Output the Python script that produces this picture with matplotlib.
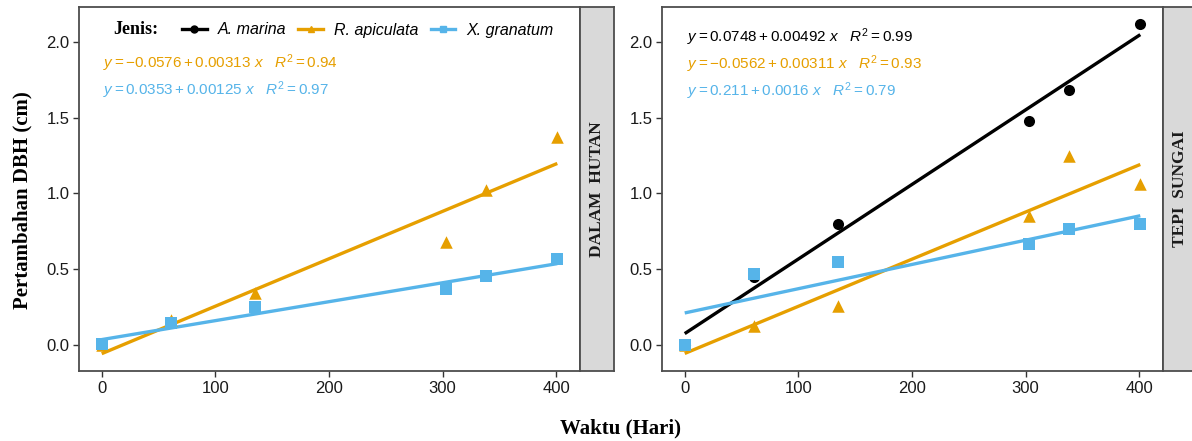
import matplotlib
matplotlib.use("Agg")
import matplotlib.pyplot as plt
from matplotlib.lines import Line2D
import numpy as np

plt.rcParams['mathtext.fontset'] = 'custom'
plt.rcParams['mathtext.rm'] = 'Liberation Sans'
plt.rcParams['mathtext.it'] = 'Liberation Sans:italic'
plt.rcParams['font.family'] = ['Liberation Sans', 'DejaVu Sans']

# ---------------- data ----------------
days = [0, 61, 135, 303, 338, 401]

# DALAM HUTAN
hutan_rapi = [0.0, 0.165, 0.34, 0.68, 1.02, 1.37]
hutan_xgra = [0.005, 0.143, 0.25, 0.37, 0.455, 0.568]

# TEPI SUNGAI
sungai_amar = [0.0, 0.445, 0.80, 1.48, 1.68, 2.12]
sungai_rapi = [0.0, 0.125, 0.26, 0.85, 1.25, 1.06]
sungai_xgra = [0.0, 0.47, 0.545, 0.667, 0.766, 0.80]

# fitted lines (intercept, slope, R2)
fit_hutan_rapi = (-0.0576, 0.00313, 0.94)
fit_hutan_xgra = (0.0353, 0.00125, 0.97)
fit_sungai_amar = (0.0748, 0.00492, 0.99)
fit_sungai_rapi = (-0.0562, 0.00311, 0.93)
fit_sungai_xgra = (0.211, 0.0016, 0.79)

species = ['A. marina', 'R. apiculata', 'X. granatum']
panel_labels = ['DALAM  HUTAN', 'TEPI  SUNGAI']
xticks = [0, 100, 200, 300, 400]
yticks = [0.0, 0.5, 1.0, 1.5, 2.0]

# ---------------- style ----------------
C_BLACK = '#000000'
C_ORANGE = '#E69F00'
C_BLUE = '#56B4E9'
colors = {'A. marina': C_BLACK, 'R. apiculata': C_ORANGE, 'X. granatum': C_BLUE}
markers = {'A. marina': 'o', 'R. apiculata': '^', 'X. granatum': 's'}
msizes = {'A. marina': 8, 'R. apiculata': 9, 'X. granatum': 8}

W, H = 1192, 441
fig = plt.figure(figsize=(W / 100, H / 100), dpi=100)

def px_axes(x0, y0, x1, y1):
    return fig.add_axes([x0 / W, (H - y1) / H, (x1 - x0) / W, (y1 - y0) / H])

ax1 = px_axes(79, 7, 580, 371)
ax2 = px_axes(662, 7, 1163, 371)
s1 = px_axes(580, 7, 614, 371)
s2 = px_axes(1163, 7, 1197, 371)

BORDER = '#4D4D4D'

def fmt_eq(b0, b1, r2):
    sign = '-' if b0 < 0 else ''
    return (r'$y = ' + sign + f'{abs(b0):g}' + r' + ' + f'{b1:g}' +
            r'\ x\quad R^2 = ' + f'{r2:.2f}' + r'$')

def draw_panel(ax, series, fits):
    xs = np.array([min(days), max(days)])
    for name, ys in series.items():
        b0, b1, r2 = fits[name]
        ax.plot(xs, b0 + b1 * xs, color=colors[name], lw=2.4, zorder=2,
                solid_capstyle='butt')
        ax.scatter(days, ys, marker=markers[name], s=msizes[name] ** 2,
                   color=colors[name], zorder=3, linewidths=0)
    ax.set_xlim(-20, 421)
    ax.set_ylim(-0.172, 2.23)
    ax.set_xticks(xticks)
    ax.set_xticklabels([str(t) for t in xticks])
    ax.set_yticks(yticks)
    ax.set_yticklabels([f'{t:.1f}' for t in yticks])
    ax.tick_params(direction='out', length=4, width=1, color='#333333',
                   labelsize=12, labelcolor='#1a1a1a', pad=3)
    for sp in ax.spines.values():
        sp.set_color(BORDER)
        sp.set_linewidth(1.3)

draw_panel(ax1, {'R. apiculata': hutan_rapi, 'X. granatum': hutan_xgra},
           {'R. apiculata': fit_hutan_rapi, 'X. granatum': fit_hutan_xgra})
draw_panel(ax2, {'A. marina': sungai_amar, 'R. apiculata': sungai_rapi,
                 'X. granatum': sungai_xgra},
           {'A. marina': fit_sungai_amar, 'R. apiculata': fit_sungai_rapi,
            'X. granatum': fit_sungai_xgra})

# equations
def eq_text(x_px, y_px, fit, color):
    fig.text(x_px / W, (H - y_px) / H, fmt_eq(*fit), color=color,
             fontsize=11, ha='left', va='center')

eq_text(103, 63, fit_hutan_rapi, C_ORANGE)
eq_text(103, 90, fit_hutan_xgra, C_BLUE)
eq_text(687, 37, fit_sungai_amar, C_BLACK)
eq_text(687, 64, fit_sungai_rapi, C_ORANGE)
eq_text(687, 91, fit_sungai_xgra, C_BLUE)

# strips
for s, lab in zip([s1, s2], panel_labels):
    s.set_facecolor('#D9D9D9')
    s.set_xticks([])
    s.set_yticks([])
    for sp in s.spines.values():
        sp.set_color(BORDER)
        sp.set_linewidth(1.3)
    s.text(0.5, 0.5, lab, rotation=90, ha='center', va='center',
           transform=s.transAxes, fontsize=12.5, fontweight='bold',
           family='Liberation Serif', color='#1a1a1a')

# legend
handles = [Line2D([0], [0], color=colors[n], lw=2.4, marker=markers[n],
                  markersize=5) for n in species]
fig.text(113 / W, (H - 30) / H, 'Jenis:', family='Liberation Serif',
         fontweight='bold', fontsize=13, ha='left', va='center')
leg = fig.legend(handles, species, loc='center left',
                 bbox_to_anchor=(182 / W, (H - 30) / H), ncol=3, frameon=False,
                 prop={'style': 'italic', 'size': 11.5}, handlelength=1.55,
                 handletextpad=0.7, columnspacing=0.75, borderaxespad=0,
                 borderpad=0)

# axis titles
fig.text(22 / W, (H - 200) / H, 'Pertambahan DBH (cm)', rotation=90,
         family='Liberation Serif', fontweight='bold', fontsize=15,
         ha='center', va='center')
fig.text(620 / W, (H - 428) / H, 'Waktu (Hari)', family='Liberation Serif',
         fontweight='bold', fontsize=15, ha='center', va='center')

fig.savefig('out.png', dpi=100)
